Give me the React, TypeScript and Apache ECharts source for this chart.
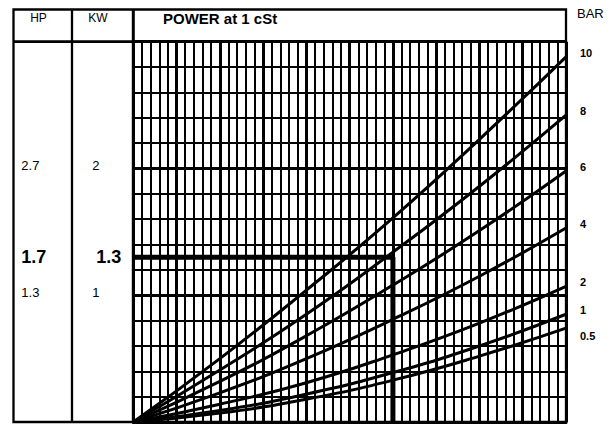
import React, { useEffect, useRef } from "react";
import * as echarts from "echarts";

// x positions (major divisions of the speed/flow axis, unlabeled in the original)
const xSamples = [0, 2, 4, 6, 8, 10];
// power in kW read at each xSample, one list per pressure (bar)
const barNames = ["10", "8", "6", "4", "2", "1", "0.5"];
const kw10 = [0, 0.5, 1.04, 1.61, 2.23, 2.88];
const kw8 = [0, 0.41, 0.85, 1.34, 1.86, 2.42];
const kw6 = [0, 0.32, 0.68, 1.08, 1.51, 1.98];
const kw4 = [0, 0.23, 0.5, 0.81, 1.15, 1.53];
const kw2 = [0, 0.14, 0.31, 0.53, 0.78, 1.07];
const kw1 = [0, 0.09, 0.22, 0.39, 0.6, 0.85];
const kw05 = [0, 0.07, 0.18, 0.33, 0.52, 0.74];
const kwSeries = [kw10, kw8, kw6, kw4, kw2, kw1, kw05];

// operating point marker (x, kW)
const markX = 6;
const markKW = 1.3;

// left scale labels
const kwTickValues = [1, 1.3, 2];
const kwTickLabels = ["1", "1.3", "2"];
const hpTickLabels = ["1.3", "1.7", "2.7"];

export default function App() {
  const ref = useRef<HTMLDivElement>(null);
  useEffect(() => {
    if (!ref.current) return;
    const chart = echarts.init(ref.current, undefined, { renderer: "svg" });
    const font = "Liberation Sans, Arial, sans-serif";
    const findIdx = (v: number) =>
      kwTickValues.findIndex((t) => Math.abs(t - v) < 1e-6);
    const sideAxis = (labels: string[], margin: number, boldPad: number) => ({
      type: "value",
      min: 0,
      max: 3,
      interval: 0.1,
      position: "left",
      axisLine: { show: false },
      axisTick: { show: false },
      splitLine: { show: false },
      axisLabel: {
        show: true,
        align: "left",
        margin,
        fontFamily: font,
        color: "#000",
        formatter: (v: number) => {
          const i = findIdx(v);
          if (i < 0) return "";
          return Math.abs(kwTickValues[i] - markKW) < 1e-6
            ? `{b|${labels[i]}}`
            : `{n|${labels[i]}}`;
        },
        rich: {
          n: { fontSize: 13, fontFamily: font, color: "#000", padding: [0, 0, 6, 0] },
          b: { fontSize: 18, fontWeight: "bold", fontFamily: font, color: "#000", padding: [0, 0, 0, boldPad] },
        },
      },
    });

    const lineSeries = kwSeries.map((arr, i) => ({
      type: "line",
      name: barNames[i],
      data: xSamples.map((x, j) => [x, arr[j]]),
      smooth: true,
      symbol: "none",
      lineStyle: { color: "#000", width: 3 },
      z: 5,
      endLabel: {
        show: true,
        formatter: barNames[i],
        color: "#000",
        fontSize: 11,
        fontWeight: "bold",
        fontFamily: font,
        offset: barNames[i] === "0.5" ? [6, 8] : [6, -4],
      },
    }));

    chart.setOption({
      animation: false,
      backgroundColor: "#fff",
      grid: { left: 133.3, right: 43, top: 41.7, bottom: 3 },
      xAxis: {
        type: "value",
        min: 0,
        max: 10,
        interval: 1,
        axisLine: { show: true, lineStyle: { color: "#000", width: 3 } },
        axisTick: { show: false },
        axisLabel: { show: false },
        splitLine: { show: true, lineStyle: { color: "#000", width: 3 } },
        minorTick: { show: false, splitNumber: 5 },
        minorSplitLine: { show: true, lineStyle: { color: "#000", width: 2 } },
      },
      yAxis: [
        {
          type: "value",
          min: 0,
          max: 3,
          interval: 1,
          axisLine: { show: true, lineStyle: { color: "#000", width: 3 } },
          axisTick: { show: false },
          axisLabel: { show: false },
          splitLine: { show: true, lineStyle: { color: "#000", width: 3 } },
          minorTick: { show: false, splitNumber: 5 },
          minorSplitLine: { show: true, lineStyle: { color: "#000", width: 2 } },
        },
        sideAxis(hpTickLabels, 112, 0),
        sideAxis(kwTickLabels, 41, 4),
      ],
      series: [
        ...lineSeries,
        {
          type: "line",
          name: "operating point",
          data: [
            [0, markKW],
            [markX, markKW],
            [markX, 0],
          ],
          symbol: "none",
          lineStyle: { color: "#000", width: 5 },
          z: 6,
        },
      ],
      graphic: [
        {
          type: "rect",
          shape: { x: 13.5, y: 9.5, width: 552.5, height: 412.5 },
          style: { fill: "none", stroke: "#000", lineWidth: 2.3 },
        },
        {
          type: "line",
          shape: { x1: 13.5, y1: 41.7, x2: 566, y2: 41.7 },
          style: { stroke: "#000", lineWidth: 2.7 },
        },
        {
          type: "line",
          shape: { x1: 72, y1: 9.5, x2: 72, y2: 422 },
          style: { stroke: "#000", lineWidth: 2.3 },
        },
        {
          type: "line",
          shape: { x1: 133.3, y1: 9.5, x2: 133.3, y2: 422 },
          style: { stroke: "#000", lineWidth: 3 },
        },
        {
          type: "text",
          x: 38.5,
          y: 18,
          style: { text: "HP", font: `12px ${font}`, fill: "#000", textAlign: "center", textVerticalAlign: "middle" },
        },
        {
          type: "text",
          x: 98,
          y: 18,
          style: { text: "KW", font: `12px ${font}`, fill: "#000", textAlign: "center", textVerticalAlign: "middle" },
        },
        {
          type: "text",
          x: 163,
          y: 18,
          style: { text: "POWER at 1 cSt", font: `bold 15px ${font}`, fill: "#000", textAlign: "left", textVerticalAlign: "middle" },
        },
        {
          type: "text",
          x: 577,
          y: 13,
          style: { text: "BAR", font: `13px ${font}`, fill: "#000", textAlign: "left", textVerticalAlign: "middle" },
        },
      ],
    });
    return () => chart.dispose();
  }, []);
  return (
    <div
      ref={ref}
      style={{ position: "absolute", left: 0, top: 0, width: 609, height: 425 }}
    />
  );
}
